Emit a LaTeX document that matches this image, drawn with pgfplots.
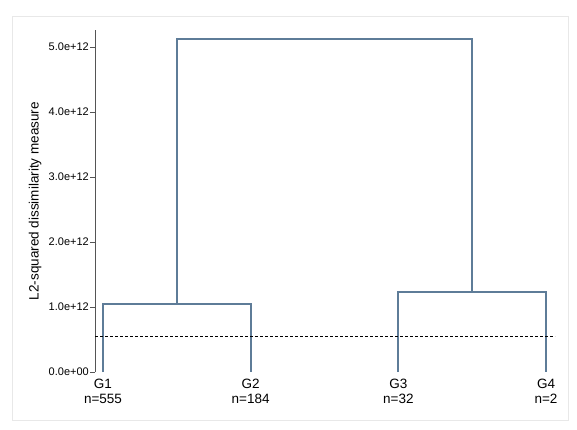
\documentclass[border=0pt]{standalone}
\usepackage{fontspec}
\setmainfont{Liberation Sans}
\usepackage{pgfplots}
\pgfplotsset{compat=1.18}
\definecolor{dendro}{RGB}{94,124,152}
\definecolor{axisgray}{RGB}{85,85,85}
\definecolor{framegray}{RGB}{232,232,232}
\begin{document}
\begin{tikzpicture}[x=1bp,y=1bp]
\path[use as bounding box] (0,0) rectangle (577,429);
\draw[framegray, line width=0.8bp] (12,9) rectangle (568,413);
\begin{axis}[
  at={(95bp,57bp)}, anchor=south west,
  scale only axis, width=460bp, height=342bp,
  xmin=0.946, xmax=4.061, ymin=0, ymax=5.26e12,
  axis y line*=left, axis x line*=bottom,
  x axis line style={draw=none},
  y axis line style={draw=axisgray, line width=0.8bp},
  xtick={1,2,3,4},
  xticklabels={{G1\\n=555},{G2\\n=184},{G3\\n=32},{G4\\n=2}},
  xticklabel style={align=center, font=\fontsize{13.5bp}{14.5bp}\selectfont, inner sep=0pt, yshift=-2bp},
  major x tick style={draw=none},
  ytick={0,1e12,2e12,3e12,4e12,5e12},
  yticklabels={0.0e+00,1.0e+12,2.0e+12,3.0e+12,4.0e+12,5.0e+12},
  yticklabel style={font=\fontsize{11bp}{12bp}\selectfont, inner sep=0pt, xshift=-1bp},
  tick align=outside, major tick length=5bp,
  major y tick style={draw=axisgray, line width=0.6bp},
  ylabel={L2-squared dissimilarity measure},
  ylabel style={at={(axis description cs:-0.1304,0.5)}, anchor=center, font=\fontsize{13.5bp}{16bp}\selectfont},
  clip=false,
  scaled y ticks=false,
]
\addplot[dendro, line width=1.7bp] coordinates {(1,0) (1,1.046e12) (2,1.046e12) (2,0)};
\addplot[dendro, line width=1.7bp] coordinates {(3,0) (3,1.23e12) (4,1.23e12) (4,0)};
\addplot[dendro, line width=1.7bp] coordinates {(1.5,1.046e12) (1.5,5.123e12) (3.5,5.123e12) (3.5,1.23e12)};
\addplot[black, line width=0.8bp, dash pattern=on 3bp off 2bp] coordinates {(0.946,0.54e12) (4.061,0.54e12)};
\end{axis}
\end{tikzpicture}
\end{document}
